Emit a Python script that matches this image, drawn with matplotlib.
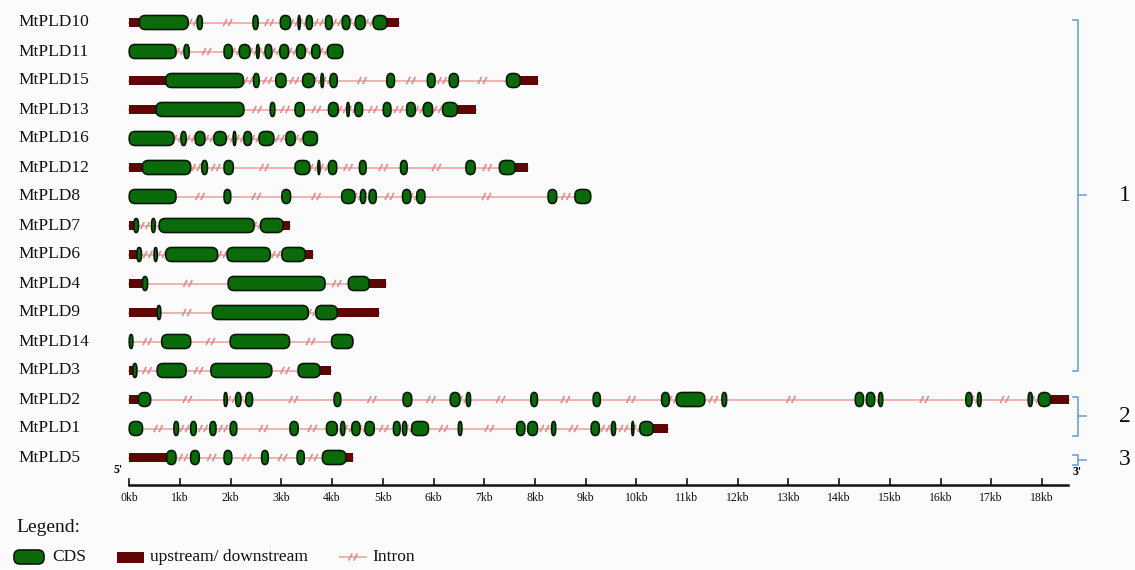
import matplotlib.pyplot as plt
from matplotlib.patches import FancyBboxPatch, Rectangle

plt.rcParams['font.family'] = ['Liberation Serif', 'DejaVu Serif']

genes = ['MtPLD10', 'MtPLD11', 'MtPLD15', 'MtPLD13', 'MtPLD16', 'MtPLD12', 'MtPLD8',
         'MtPLD7', 'MtPLD6', 'MtPLD4', 'MtPLD9', 'MtPLD14', 'MtPLD3', 'MtPLD2',
         'MtPLD1', 'MtPLD5']

# exon (CDS) and upstream/downstream positions in kb
cds_10 = [(0.20, 1.16), (1.34, 1.44), (2.44, 2.54), (2.98, 3.18), (3.33, 3.37), (3.49, 3.61),
          (3.87, 4.00), (4.20, 4.35), (4.46, 4.65), (4.81, 5.08)]
utr_10 = [(0.0, 0.20), (5.08, 5.32)]
cds_11 = [(0.0, 0.92), (1.08, 1.18), (1.87, 2.03), (2.17, 2.38), (2.51, 2.56), (2.68, 2.81),
          (2.97, 3.14), (3.30, 3.47), (3.60, 3.76), (3.91, 4.21)]
utr_11 = []
cds_15 = [(0.72, 2.25), (2.45, 2.56), (2.89, 3.09), (3.42, 3.65), (3.78, 3.83), (3.96, 4.10),
          (5.08, 5.23), (5.88, 6.03), (6.31, 6.49), (7.44, 7.71)]
utr_15 = [(0.0, 0.72), (7.71, 8.07)]
cds_13 = [(0.53, 2.26), (2.78, 2.87), (3.27, 3.45), (3.93, 4.12), (4.29, 4.34), (4.45, 4.60),
          (5.01, 5.16), (5.47, 5.64), (5.80, 5.98), (6.18, 6.47)]
utr_13 = [(0.0, 0.53), (6.47, 6.84)]
cds_16 = [(0.0, 0.88), (1.02, 1.12), (1.30, 1.49), (1.67, 1.91), (2.05, 2.10), (2.26, 2.41),
          (2.56, 2.85), (3.09, 3.27), (3.43, 3.71)]
utr_16 = []
cds_12 = [(0.26, 1.21), (1.43, 1.54), (1.87, 2.05), (3.27, 3.56), (3.72, 3.76), (3.93, 4.09),
          (4.54, 4.67), (5.35, 5.48), (6.64, 6.82), (7.30, 7.61)]
utr_12 = [(0.0, 0.26), (7.61, 7.86)]
cds_8 = [(0.0, 0.92), (1.87, 2.00), (3.01, 3.18), (4.19, 4.45), (4.56, 4.66), (4.73, 4.87),
         (5.39, 5.55), (5.67, 5.83), (8.26, 8.43), (8.79, 9.10)]
utr_8 = []
cds_7 = [(0.09, 0.18), (0.44, 0.51), (0.59, 2.46), (2.59, 3.03)]
utr_7 = [(0.0, 0.09), (3.03, 3.16)]
cds_6 = [(0.15, 0.24), (0.49, 0.55), (0.72, 1.74), (1.93, 2.78), (3.01, 3.47)]
utr_6 = [(0.0, 0.15), (3.47, 3.63)]
cds_4 = [(0.26, 0.36), (1.95, 3.86), (4.32, 4.73)]
utr_4 = [(0.0, 0.26), (4.73, 5.06)]
cds_9 = [(0.55, 0.62), (1.64, 3.53), (3.68, 4.10)]
utr_9 = [(0.0, 0.55), (4.10, 4.93)]
cds_14 = [(0.0, 0.07), (0.64, 1.21), (1.99, 3.16), (3.99, 4.41)]
utr_14 = []
cds_3 = [(0.07, 0.15), (0.55, 1.12), (1.61, 2.81), (3.33, 3.76)]
utr_3 = [(0.0, 0.07), (3.76, 3.97)]
cds_2 = [(0.18, 0.42), (1.87, 1.93), (2.10, 2.20), (2.30, 2.43), (4.04, 4.17), (5.40, 5.57),
         (6.33, 6.52), (6.65, 6.73), (7.92, 8.05), (9.15, 9.29), (10.50, 10.65), (10.79, 11.35),
         (11.69, 11.78), (14.32, 14.48), (14.54, 14.70), (14.78, 14.86), (16.50, 16.62),
         (16.73, 16.80), (17.73, 17.81), (17.93, 18.17)]
utr_2 = [(0.0, 0.18), (18.17, 18.53)]
cds_1 = [(0.0, 0.26), (0.88, 0.97), (1.21, 1.32), (1.59, 1.71), (1.99, 2.12), (3.17, 3.33),
         (3.89, 4.10), (4.17, 4.25), (4.39, 4.55), (4.65, 4.83), (5.21, 5.34), (5.39, 5.47),
         (5.57, 5.90), (6.49, 6.56), (7.64, 7.80), (7.86, 8.05), (8.33, 8.41), (9.11, 9.27),
         (9.51, 9.59), (9.91, 9.95), (10.07, 10.33)]
utr_1 = [(10.33, 10.63)]
cds_5 = [(0.74, 0.92), (1.21, 1.38), (1.87, 2.02), (2.61, 2.74), (3.31, 3.45), (3.81, 4.27)]
utr_5 = [(0.0, 0.74), (4.27, 4.41)]

cds = [cds_10, cds_11, cds_15, cds_13, cds_16, cds_12, cds_8, cds_7, cds_6, cds_4, cds_9,
       cds_14, cds_3, cds_2, cds_1, cds_5]
utr = [utr_10, utr_11, utr_15, utr_13, utr_16, utr_12, utr_8, utr_7, utr_6, utr_4, utr_9,
       utr_14, utr_3, utr_2, utr_1, utr_5]

scale_kb = list(range(0, 19))
scale_labels = ['%dkb' % k for k in scale_kb]

groups = [('1', 0, 12), ('2', 13, 14), ('3', 15, 15)]

# colours
GREEN = '#0b6b0b'
MAROON = '#5e0606'
INTRON = '#efb2b2'
SLASH = '#e08c8c'
BRACKET = '#6fa3d6'
BG = '#fbfbfb'

# pixel scale of the drawing: 50.7 px per kb, 29 px per gene row
W, H = 1135, 570
SX, SY = 50.7, 29.0
X0, Y0 = 129.3, 22.5


def X(px):
    return (px - X0) / SX


def Y(py):
    return (py - Y0) / SY


EH = 14.0 / SY   # CDS height
UH = 9.0 / SY    # UTR height

fig = plt.figure(figsize=(W / 100, H / 100), dpi=100, facecolor=BG)
ax = fig.add_axes([0, 0, 1, 1])
ax.set_facecolor(BG)
ax.set_xlim(X(0), X(W))
ax.set_ylim(Y(H), Y(0))
ax.axis('off')


def draw_cds(s, e, y):
    w_px = (e - s) * SX
    rx = min(6.0, w_px / 2.0) / SX
    ry = 5.8 / SY
    ax.add_patch(FancyBboxPatch((s, y - EH / 2), e - s, EH,
                                boxstyle='round,pad=0,rounding_size=%f' % rx,
                                mutation_aspect=ry / rx, fc=GREEN, ec='#071a07',
                                lw=1.2, zorder=3))


def draw_utr(s, e, y):
    ax.add_patch(Rectangle((s, y - UH / 2), e - s, UH, fc=MAROON, ec='none', zorder=2.5))


def draw_slash(x, y):
    # two slanted strokes "//" across the intron line
    for off in (-2.6, 2.6):
        xc = x + off / SX
        ax.plot([xc - 1.8 / SX, xc + 1.8 / SX], [y + 3.6 / SY, y - 3.6 / SY],
                color=SLASH, lw=1.2, zorder=2, solid_capstyle='butt')


for i, name in enumerate(genes):
    ax.text(X(18), i, name, fontsize=12.5, ha='left', va='center', color='#111111')
    feats = sorted(cds[i] + utr[i])
    start, end = feats[0][0], feats[-1][1]
    ax.plot([start, end], [i, i], color=INTRON, lw=1.4, zorder=1)
    for (a0, a1), (b0, b1) in zip(feats[:-1], feats[1:]):
        if b0 - a1 > 0.02:
            draw_slash((a1 + b0) / 2, i)
    for s, e in utr[i]:
        draw_utr(s, e, i)
    for s, e in cds[i]:
        draw_cds(s, e, i)

# scale bar
ybar = Y(485)
ax.plot([0, X(1068)], [ybar, ybar], color='#111111', lw=1.8, zorder=2)
for k, lab in zip(scale_kb, scale_labels):
    ax.plot([k, k], [ybar, ybar - 6 / SY], color='#111111', lw=1.2)
    ax.text(k, Y(498), lab, fontsize=8.5, ha='center', va='center', color='#111111')
ax.text(X(118), Y(470), "5'", fontsize=8.5, ha='center', va='center', weight='bold')
ax.text(X(1077), Y(472), "3'", fontsize=8.5, ha='center', va='center', weight='bold')

# group brackets
xb = X(1078)
hook = 5 / SX
for lab, r0, r1 in groups:
    top = r0 - 0.1
    bot = r1 if r0 == 0 else r1 + 0.25
    mid = (top + bot) / 2
    ax.plot([xb - hook, xb, xb, xb - hook], [top, top, bot, bot], color=BRACKET, lw=1.2)
    ax.plot([xb, xb + 8 / SX], [mid, mid], color=BRACKET, lw=1.2)
    ax.text(X(1125), mid, lab, fontsize=17, ha='center', va='center', color='#111111')

# legend
ax.text(X(16), Y(528), 'Legend:', fontsize=14, ha='left', va='center', color='#111111')
yl = Y(557)
draw_cds(X(14), X(44), yl)
ax.text(X(52), yl, 'CDS', fontsize=12.5, ha='left', va='center', color='#111111')
ax.add_patch(Rectangle((X(117), yl - 11 / SY / 2), X(144) - X(117), 11 / SY,
                       fc=MAROON, ec='none'))
ax.text(X(150), yl, 'upstream/ downstream', fontsize=12.5, ha='left', va='center',
        color='#111111')
ax.plot([X(340), X(366)], [yl, yl], color=INTRON, lw=1.4)
draw_slash(X(353), yl)
ax.text(X(372), yl, 'Intron', fontsize=12.5, ha='left', va='center', color='#111111')

fig.savefig('out.png', dpi=100, facecolor=BG)
